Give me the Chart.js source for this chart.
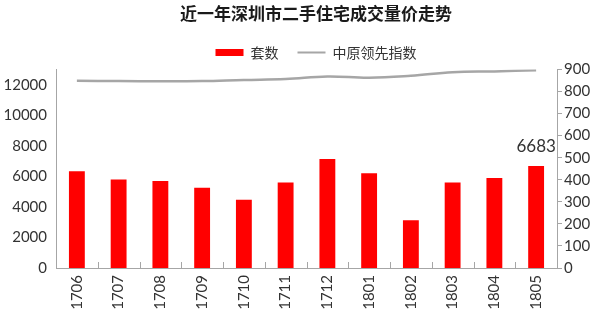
<!DOCTYPE html>
<html>
<head>
<meta charset="utf-8">
<script src="https://cdn.jsdelivr.net/npm/chart.js@4/dist/chart.umd.min.js"></script>
<style>
    html, body { margin: 0; padding: 0; background: #fff; }
    #wrap { width: 600px; height: 315px; }
</style>
</head>
<body>
<div id="wrap"><canvas id="chart"></canvas></div>
<script>
const months = ['1706', '1707', '1708', '1709', '1710', '1711', '1712', '1801', '1802', '1803', '1804', '1805'];
const volume = [6330, 5790, 5700, 5260, 4460, 5590, 7130, 6200, 3130, 5590, 5890, 6683];
const priceIndex = [848, 847, 846, 847, 852, 856, 868, 862, 871, 887, 891, 896];
const leftTicks = [0, 2000, 4000, 6000, 8000, 10000, 12000];
const rightTicks = [0, 100, 200, 300, 400, 500, 600, 700, 800, 900];

const axisGray = '#a6a6a6';
const textColor = '#333333';
const numFont = { family: 'Lato', size: 15 };

// title and legend sit a little right of the canvas centre in the original
const shiftHeader = {
    id: 'shiftHeader',
    afterLayout(chart) {
        [chart.titleBlock, chart.legend].forEach(box => {
            if (box) box.left += 32;
        });
    }
};

// small marks between categories, pointing up from the x axis
const xTickMarks = {
    id: 'xTickMarks',
    afterDatasetsDraw(chart) {
        const x = chart.scales.x;
        const ctx = chart.ctx;
        const bottom = chart.chartArea.bottom;
        ctx.save();
        ctx.strokeStyle = axisGray;
        ctx.lineWidth = 1;
        for (let i = 1; i < months.length; i++) {
            const px = Math.round((x.getPixelForValue(i - 1) + x.getPixelForValue(i)) / 2) + 0.5;
            ctx.beginPath();
            ctx.moveTo(px, bottom);
            ctx.lineTo(px, bottom - 6);
            ctx.stroke();
        }
        ctx.restore();
    }
};

// value label over the last bar
const lastLabel = {
    id: 'lastLabel',
    afterDatasetsDraw(chart) {
        const meta = chart.getDatasetMeta(0);
        const i = volume.length - 1;
        const bar = meta.data[i];
        const ctx = chart.ctx;
        ctx.save();
        ctx.font = '17px Lato';
        ctx.fillStyle = textColor;
        ctx.textAlign = 'center';
        ctx.textBaseline = 'bottom';
        ctx.fillText(String(volume[i]), bar.x, bar.y - 11);
        ctx.restore();
    }
};

new Chart(document.getElementById('chart'), {
    data: {
        labels: months,
        datasets: [{
            type: 'bar',
            label: '套数',
            data: volume,
            backgroundColor: '#ff0000',
            yAxisID: 'y',
            categoryPercentage: 1,
            barPercentage: 0.38,
            order: 2
        }, {
            type: 'line',
            label: '中原领先指数',
            data: priceIndex,
            borderColor: axisGray,
            backgroundColor: axisGray,
            borderWidth: 2.5,
            pointRadius: 0,
            tension: 0.4,
            yAxisID: 'y1',
            order: 1
        }]
    },
    options: {
        responsive: true,
        maintainAspectRatio: false,
        animation: false,
        layout: { padding: { top: 1 } },
        plugins: {
            title: {
                display: true,
                text: '近一年深圳市二手住宅成交量价走势',
                color: '#1a1a1a',
                font: { family: 'Noto Sans CJK SC', size: 17, weight: 'bold' },
                padding: { top: 2, bottom: 3 }
            },
            legend: {
                labels: {
                    usePointStyle: true,
                    pointStyleWidth: 28,
                    boxHeight: 7,
                    padding: 19,
                    color: textColor,
                    font: { family: 'Noto Sans CJK SC', size: 14 },
                    generateLabels(chart) {
                        return chart.data.datasets.map((ds, i) => ({
                            text: ds.label,
                            datasetIndex: i,
                            fillStyle: ds.type === 'bar' ? ds.backgroundColor : 'transparent',
                            strokeStyle: ds.type === 'bar' ? ds.backgroundColor : ds.borderColor,
                            lineWidth: ds.type === 'bar' ? 0 : 2,
                            pointStyle: ds.type === 'bar' ? 'rect' : 'line',
                            fontColor: textColor
                        }));
                    }
                }
            },
            tooltip: { enabled: false }
        },
        scales: {
            x: {
                grid: { display: false, drawTicks: false },
                border: { display: true, color: axisGray, width: 1 },
                ticks: { color: textColor, font: numFont, minRotation: 90, maxRotation: 90, padding: 7 },
                afterFit(scale) { scale.height = 47; }
            },
            y: {
                position: 'left',
                min: 0,
                max: 13000,
                grid: { display: false, drawTicks: false },
                border: { display: true, color: axisGray, width: 1 },
                ticks: { color: textColor, font: numFont, padding: 9, callback: v => String(v) },
                afterBuildTicks(scale) { scale.ticks = leftTicks.map(v => ({ value: v })); },
                afterFit(scale) { scale.width = 56; }
            },
            y1: {
                position: 'right',
                min: 0,
                max: 900,
                grid: { display: true, drawOnChartArea: false, drawTicks: true, tickLength: 5, color: axisGray },
                border: { display: true, color: axisGray, width: 1 },
                ticks: { color: textColor, font: numFont, padding: 2, callback: v => String(v) },
                afterBuildTicks(scale) { scale.ticks = rightTicks.map(v => ({ value: v })); },
                afterFit(scale) { scale.width = 43; }
            }
        }
    },
    plugins: [shiftHeader, xTickMarks, lastLabel]
});
</script>
</body>
</html>
